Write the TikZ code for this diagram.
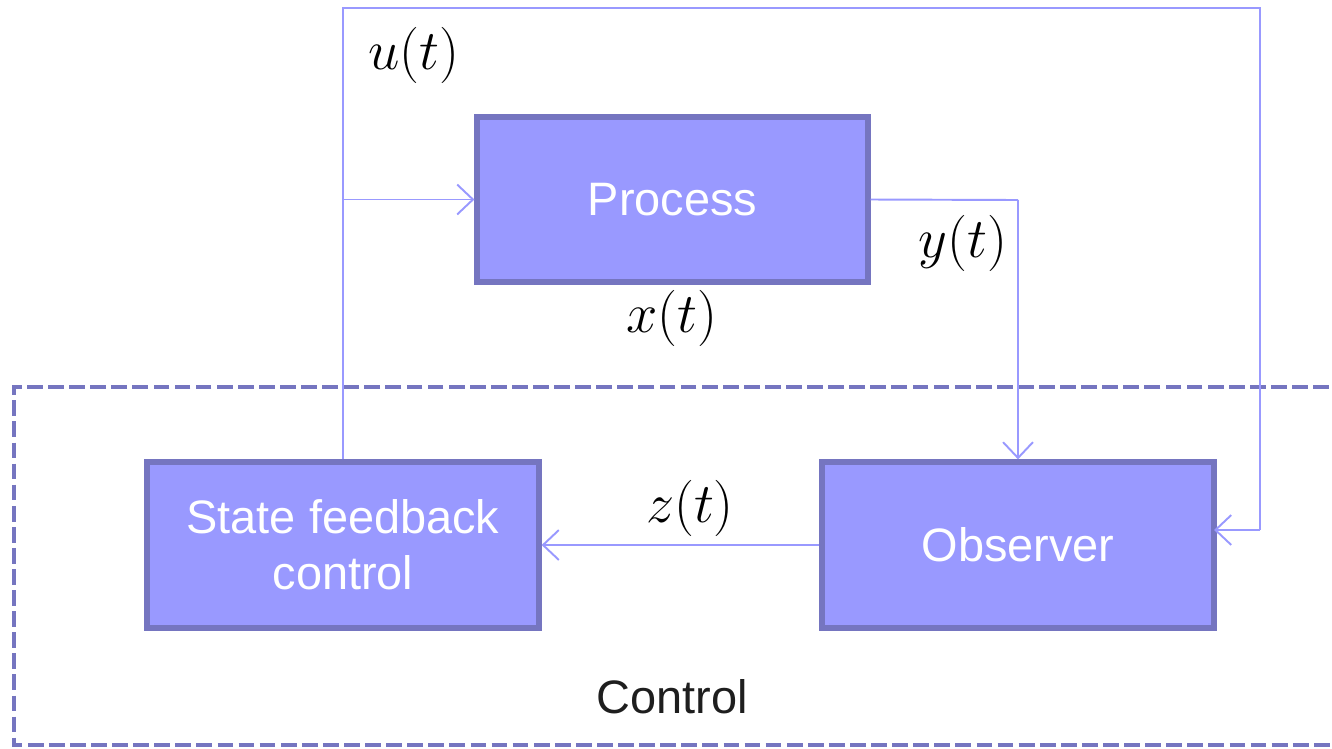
\RequirePackage{fix-cm}
\documentclass[tikz,border=0pt]{standalone}
\usepackage{fontspec}
\setmainfont{Liberation Sans}
\usetikzlibrary{arrows.meta}
\definecolor{boxfill}{RGB}{153,153,255}
\definecolor{boxline}{RGB}{117,117,192}
\definecolor{conncol}{RGB}{153,153,255}
\definecolor{txtdark}{RGB}{30,30,30}
\tikzset{
  blockbox/.style={draw=boxline, fill=boxfill, line width=3pt, text=white,
    font=\fontsize{26.7}{32}\selectfont, align=center, inner sep=0pt},
  conn/.style={draw=conncol, line width=1.1pt},
  arr/.style={-{Straight Barb[length=9pt,width=17pt,line width=1.1pt]}},
  mathlbl/.style={font=\fontsize{32}{38}\selectfont, inner sep=1pt},
  grp/.style={draw=boxline, line width=2.8pt, dash pattern=on 9pt off 3pt}
}
\begin{document}
\begin{tikzpicture}[x=0.02cm,y=-0.02cm]
\useasboundingbox (0,0) rectangle (1332,748);
% group frame
\draw[grp] (1350,387) -- (14,387) -- (14,745) -- (1350,745);
\node[font=\fontsize{26.7}{32}\selectfont, text=txtdark] (ctl) at (672,697) {Control};
% blocks
\node[blockbox, minimum width=7.82cm, minimum height=3.3cm] (proc) at (672.5,199.5) {Process};
\node[blockbox, minimum width=7.84cm, minimum height=3.32cm] (sfc) at (343,545) {State feedback\\control};
\node[blockbox, minimum width=7.84cm, minimum height=3.32cm] (obs) at (1018,545) {Observer};
% helper coordinates
\coordinate (ctop) at (343,8);
\coordinate (rtop) at (1260,8);
\coordinate (rmid) at (1260,530);
\coordinate (obsin) at (1214,530);
\coordinate (ycorner) at (1018,200);
% connectors
\draw[conn] (sfc.north) -- (ctop) -- (rtop) -- (rmid);
\draw[conn, arr] (rmid) -- (obsin);
\draw[conn, arr] (sfc.north |- proc.west) -- (proc.west);
\draw[conn] (proc.east) -- (ycorner);
\draw[conn, arr] (ycorner) -- (obs.north);
\draw[conn, arr] (obs.west) -- (sfc.east);
% labels
\node[mathlbl] (ul) at (414,55) {$u(t)$};
\node[mathlbl] (yl) at (963,243) {$y(t)$};
\node[mathlbl] (xl) at (672,318) {$x(t)$};
\node[mathlbl, fill=white, inner xsep=3pt, inner ysep=0pt] (zl) at (690,508) {$z(t)$};
\end{tikzpicture}
\end{document}
